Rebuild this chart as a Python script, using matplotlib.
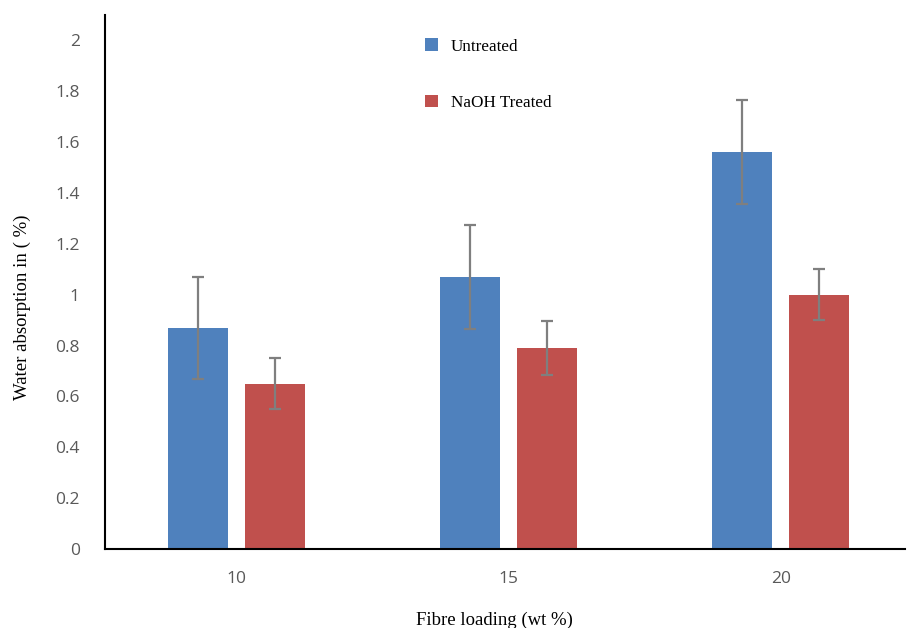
"""Water absorption vs fibre loading, grouped bars with error bars."""

import matplotlib
matplotlib.use("Agg")
import matplotlib.pyplot as plt
import numpy as np

# Data
loadings = ["10", "15", "20"]
untreated = [0.87, 1.07, 1.56]
untreated_err = [0.20, 0.205, 0.205]
treated = [0.65, 0.79, 1.00]
treated_err = [0.10, 0.105, 0.10]
yticks = [0, 0.2, 0.4, 0.6, 0.8, 1, 1.2, 1.4, 1.6, 1.8, 2]
ytick_labels = ["0", "0.2", "0.4", "0.6", "0.8", "1", "1.2", "1.4", "1.6", "1.8", "2"]

BLUE = "#4F81BD"
RED = "#C0504D"
ERR = "#7F7F7F"
TICK = "#595959"

fig = plt.figure(figsize=(9.2, 6.28), dpi=100)
ax = fig.add_axes([0.114, 0.126, 0.870, 0.850])

x = np.arange(len(loadings))
w = 0.22
gap = 0.062
err_kw = dict(ecolor=ERR, elinewidth=1.6, capsize=4.5, capthick=1.6)
ax.bar(x - (w + gap) / 2, untreated, w, yerr=untreated_err, color=BLUE,
       label="Untreated", error_kw=err_kw, zorder=2)
ax.bar(x + (w + gap) / 2, treated, w, yerr=treated_err, color=RED,
       label="NaOH Treated", error_kw=err_kw, zorder=2)

ax.set_xlim(-0.483, 2.458)
ax.set_ylim(0, 2.1)
ax.set_xticks(x)
ax.set_xticklabels(loadings)
ax.set_yticks(yticks)
ax.set_yticklabels(ytick_labels)
ax.tick_params(axis="both", length=0, labelsize=12.5, labelcolor=TICK)
ax.tick_params(axis="y", pad=18)
ax.tick_params(axis="x", pad=16)
for lab in ax.get_xticklabels() + ax.get_yticklabels():
    lab.set_family("Open Sans")

for side in ("top", "right"):
    ax.spines[side].set_visible(False)
ax.spines["left"].set_linewidth(1.5)
ax.spines["bottom"].set_linewidth(1.5)

ax.set_xlabel("Fibre loading (wt %)", family="Liberation Serif", fontsize=13.5,
              va="center")
ax.set_ylabel("Water absorption in ( %)", family="Liberation Serif",
              fontsize=13.5, va="center")
ax.xaxis.set_label_coords(0.487, -0.133)
ax.yaxis.set_label_coords(-0.1025, 0.452)

ax.legend(loc="upper left", bbox_to_anchor=(0.381, 0.985), frameon=False,
          prop={"family": "Liberation Serif", "size": 12.3},
          handlelength=0.75, handleheight=0.75, labelspacing=2.35,
          handletextpad=0.75)

fig.savefig("out.png", dpi=100)
